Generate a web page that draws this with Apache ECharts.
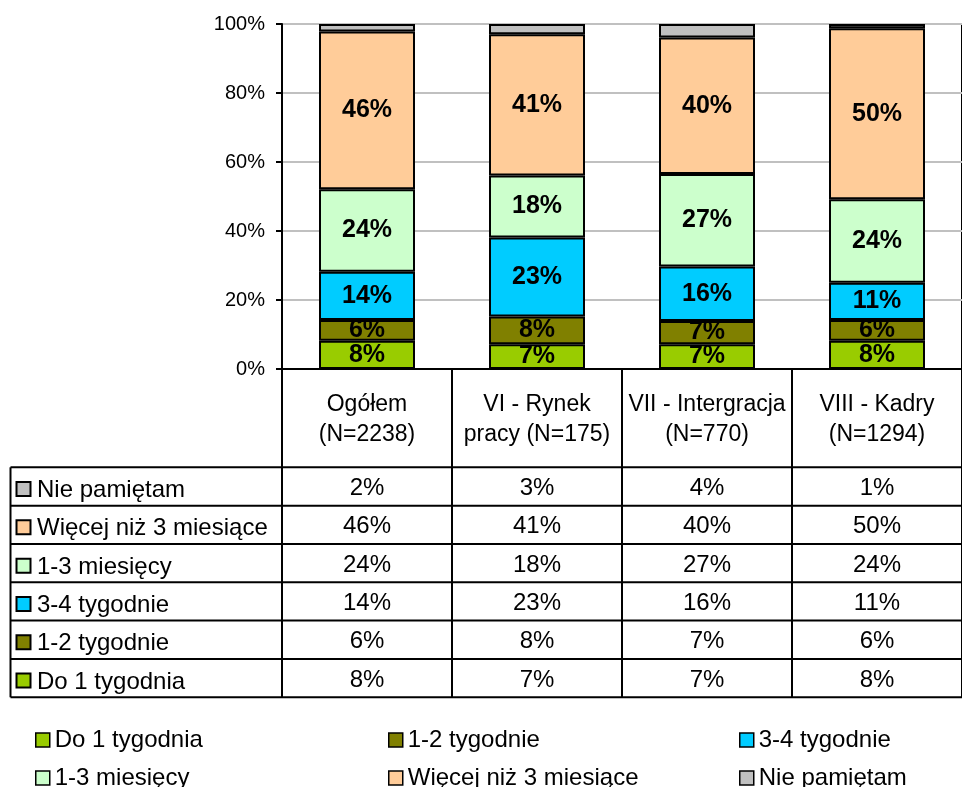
<!DOCTYPE html>
<html><head><meta charset="utf-8">
<script src="https://cdn.jsdelivr.net/npm/echarts@6/dist/echarts.min.js"></script>
<style>html,body{margin:0;padding:0;background:#fff}#c{width:962px;height:787px}</style>
</head><body><div id="c"></div>
<script>
const categories = ['Ogółem\n(N=2238)', 'VI - Rynek\npracy (N=175)', 'VII - Intergracja\n(N=770)', 'VIII - Kadry\n(N=1294)'];
const seriesNames = ['Do 1 tygodnia', '1-2 tygodnie', '3-4 tygodnie', '1-3 miesięcy', 'Więcej niż 3 miesiące', 'Nie pamiętam'];
const do1Tygodnia = [8.2, 7.2, 7.2, 8.2];
const tyg12 = [6.0, 8.0, 6.7, 6.0];
const tyg34 = [14.0, 22.9, 15.8, 10.8];
const mies13 = [23.9, 18.0, 26.8, 24.2];
const wiecejNiz3 = [45.7, 40.9, 39.6, 49.6];
const niePamietam = [2.2, 3.0, 3.9, 1.2];
const yTickValues = [0, 20, 40, 60, 80, 100];

const seriesData = [do1Tygodnia, tyg12, tyg34, mies13, wiecejNiz3, niePamietam];
const colors = ['#99CC00', '#808000', '#00CCFF', '#CCFFCC', '#FFCC99', '#C0C0C0'];
const FF = 'Liberation Sans, Arial, sans-serif';

const chart = echarts.init(document.getElementById('c'), null, {renderer: 'canvas'});

const legendCols = [35, 388, 739];
const legendRows = [728, 766];

const option = {
  animation: false,
  backgroundColor: '#fff',
  grid: {left: 282, top: 24, width: 691, height: 345, show: true, borderColor: '#000', borderWidth: 2, backgroundColor: 'transparent'},
  xAxis: {
    type: 'category', data: categories,
    axisLine: {show: true, lineStyle: {color: '#000', width: 2}},
    axisTick: {show: false},
    axisLabel: {interval: 0, fontSize: 23, lineHeight: 30, margin: 21, color: '#000', fontFamily: FF}
  },
  yAxis: {
    type: 'value', min: yTickValues[0], max: yTickValues[yTickValues.length - 1], interval: yTickValues[1] - yTickValues[0],
    axisLine: {show: true, lineStyle: {color: '#000', width: 2}},
    axisTick: {show: true, length: 6, lineStyle: {color: '#000', width: 2}},
    axisLabel: {formatter: '{value}%', fontSize: 20, margin: 17, color: '#000', fontFamily: FF},
    splitLine: {show: true, lineStyle: {color: '#C0C0C0', width: 2}}
  },
  legend: seriesNames.map((n, i) => ({
    data: [n],
    left: legendCols[i % 3], top: legendRows[Math.floor(i / 3)],
    itemWidth: 14, itemHeight: 14, icon: 'rect', padding: 0,
    itemStyle: {borderColor: '#000', borderWidth: 1.5},
    textStyle: {fontSize: 24, lineHeight: 24, fontFamily: FF, color: '#000'},
    selectedMode: false
  })),
  series: seriesNames.map((n, i) => ({
    name: n, type: 'bar', stack: 'total', barWidth: 96, data: seriesData[i],
    itemStyle: {color: colors[i], borderColor: '#000', borderWidth: 2},
    label: {
      show: i < 5, position: 'inside', formatter: p => Math.round(p.value) + '%',
      fontFamily: FF, fontWeight: 'bold', fontSize: 25, color: '#000'
    },
    emphasis: {disabled: true}
  }))
};
chart.setOption(option);

// data table under the plot
const x0 = chart.convertToPixel({xAxisIndex: 0}, 0);
const x1 = chart.convertToPixel({xAxisIndex: 0}, 1);
const step = x1 - x0;
const colLeft = x0 - step / 2;
const bounds = [0, 1, 2, 3, 4].map(i => colLeft + i * step);
const axisY = chart.convertToPixel({yAxisIndex: 0}, 0);
const tableTop = 467.3, rowH = 38.33, tableLeft = 10.5;
const nRows = seriesNames.length;
const tableBottom = tableTop + nRows * rowH;
const els = [];
const ls = {stroke: '#000', lineWidth: 2};
for (let r = 0; r <= nRows; r++) {
  const y = tableTop + r * rowH;
  els.push({type: 'line', shape: {x1: tableLeft, y1: y, x2: bounds[4], y2: y}, style: ls, silent: true});
}
els.push({type: 'line', shape: {x1: tableLeft, y1: tableTop, x2: tableLeft, y2: tableBottom}, style: ls, silent: true});
for (let c = 0; c <= 4; c++) {
  els.push({type: 'line', shape: {x1: bounds[c], y1: axisY, x2: bounds[c], y2: tableBottom}, style: ls, silent: true});
}
for (let r = 0; r < nRows; r++) {
  const si = nRows - 1 - r;
  const cy = tableTop + r * rowH + rowH / 2;
  els.push({type: 'rect', shape: {x: 16.5, y: cy - 4.5, width: 14, height: 14}, style: {fill: colors[si], stroke: '#000', lineWidth: 2}, silent: true});
  els.push({type: 'text', x: 37, y: cy + 4, style: {text: seriesNames[si], fontSize: 24, fontFamily: FF, fill: '#000', align: 'left', verticalAlign: 'middle'}, silent: true});
  for (let c = 0; c < categories.length; c++) {
    const cx = chart.convertToPixel({xAxisIndex: 0}, c);
    els.push({type: 'text', x: cx, y: cy + 2, style: {text: Math.round(seriesData[si][c]) + '%', fontSize: 24, fontFamily: FF, fill: '#000', align: 'center', verticalAlign: 'middle'}, silent: true});
  }
}
chart.setOption({graphic: {elements: els}});
</script></body></html>
